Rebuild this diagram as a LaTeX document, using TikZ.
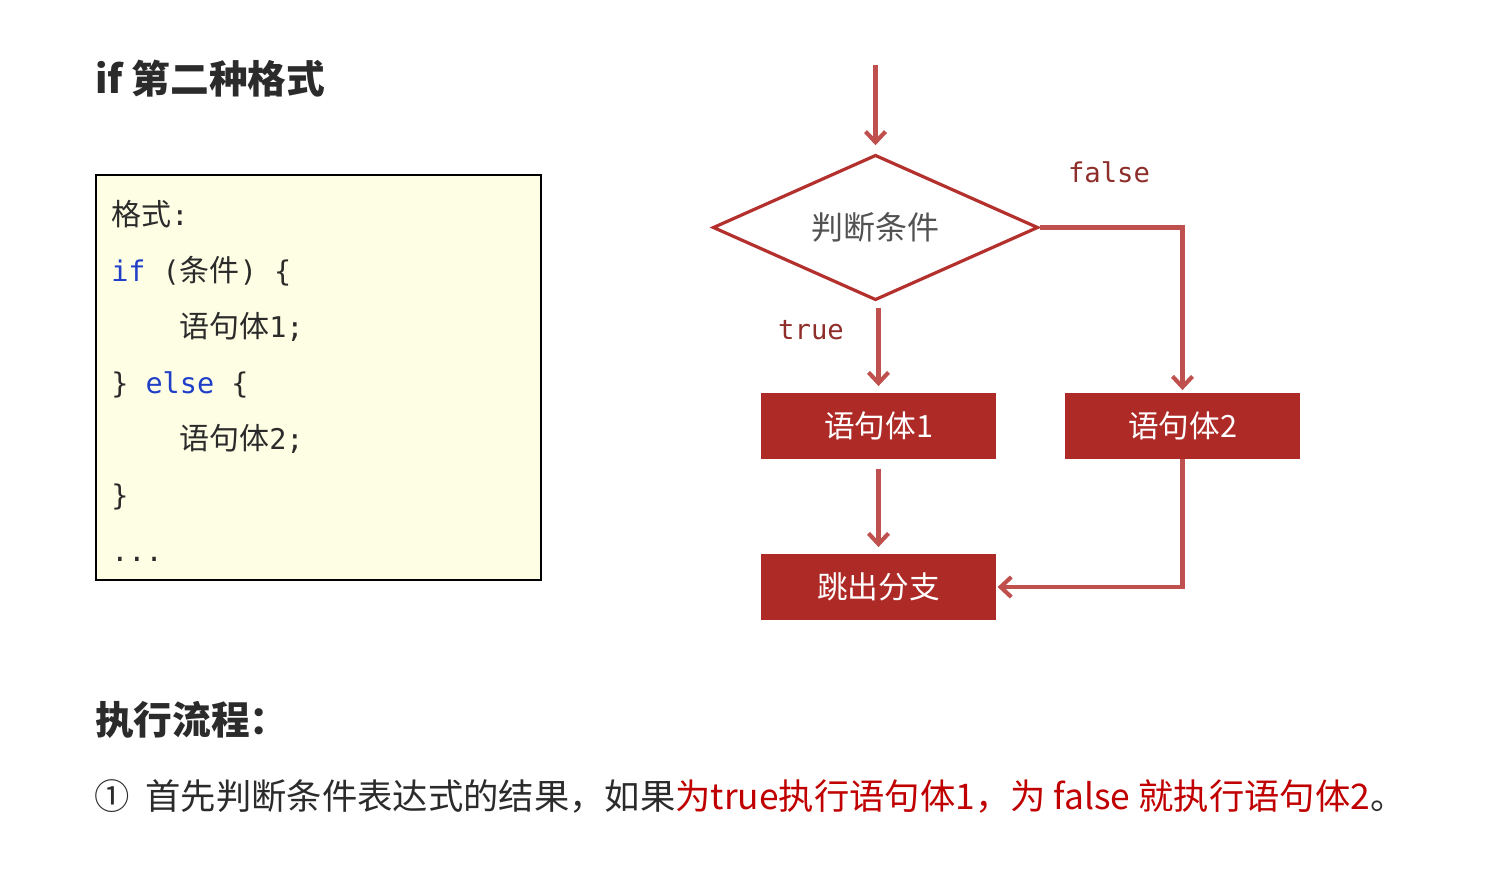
\documentclass[tikz,border=0pt]{standalone}
\usepackage{fontspec}
\usetikzlibrary{shapes.geometric,arrows.meta}
\newfontfamily\cjk{Noto Sans CJK SC}
\setmonofont{DejaVu Sans Mono}[Scale=0.95]
\definecolor{boxred}{HTML}{AE2A27}
\definecolor{dmred}{HTML}{B3302D}
\definecolor{arrred}{HTML}{C0504D}
\definecolor{lblred}{HTML}{8E2E2B}
\definecolor{codebg}{HTML}{FEFEE4}
\definecolor{kwblue}{HTML}{1F3FC8}
\definecolor{txt}{HTML}{2B2B2B}
\definecolor{hired}{HTML}{C00000}
\tikzset{
  codeline/.style={anchor=base west, inner sep=0, text=txt, font=\cjk\fontsize{22.5}{26}\selectfont},
  stepbox/.style={rectangle, fill=boxred, minimum width=176.25pt, minimum height=49.5pt, inner sep=0, text=white, font=\cjk\fontsize{23}{26}\selectfont},
  cond/.style={diamond, aspect=2.2, draw=dmred, line width=2.4pt, minimum width=244pt, minimum height=109pt, inner sep=0, text=black!68, font=\cjk\fontsize{24}{26}\selectfont},
  arr/.style={draw=arrred, line width=3.1pt, -{Straight Barb[length=8pt,width=15pt,line width=3.1pt]}},
  lbl/.style={inner sep=0, text=lblred, font=\ttfamily\fontsize{21.5}{26}\selectfont},
}
\begin{document}
\begin{tikzpicture}[x=0.75pt,y=-0.75pt]
\useasboundingbox (0,0) rectangle (1505,879);
% title
\node[anchor=base west, inner sep=0, text=txt, font=\cjk\bfseries\fontsize{29}{32}\selectfont] (title) at (95,93) {if 第二种格式};
% code box
\node[draw=black, line width=1.5pt, fill=codebg, minimum width=333.75pt, minimum height=303.75pt, inner sep=0, anchor=north west] (codebox) at (95,174) {};
\node[codeline] (c1) at (111,225) {格式\ttfamily:};
\node[codeline] (c2) at (111,281.5) {\ttfamily\textcolor{kwblue}{if} (\cjk 条件\ttfamily) \{};
\node[codeline] (c3) at (179,337.5) {语句体\ttfamily1;};
\node[codeline] (c4) at (111,393.5) {\ttfamily\} \textcolor{kwblue}{else} \{};
\node[codeline] (c5) at (179,449.5) {语句体\ttfamily2;};
\node[codeline] (c6) at (111,505.5) {\ttfamily\}};
\node[codeline] (c7) at (111,561) {\ttfamily...};
% flowchart
\coordinate (start) at (875.5,65);
\node[cond] (d) at (875.5,227.5) {判断条件};
\node[stepbox] (b1) at (878.5,426) {语句体1};
\node[stepbox] (b2) at (1182.5,426) {语句体2};
\node[stepbox] (ex) at (878.5,587) {跳出分支};
\node[lbl] (lf) at (1109,172) {false};
\node[lbl] (lt) at (811,330) {true};
\draw[arr, shorten >=6pt] (start) -- (d.north);
\draw[arr, shorten <=4.5pt, shorten >=5pt] (b1.north |- d.south) -- (b1.north);
\draw[arr, shorten >=2pt] (d.east) -| (b2.north);
\draw[arr, shorten <=7pt, shorten >=5pt] (b1.south) -- (ex.north);
\draw[arr, shorten >=1pt] (b2.south) |- (ex.east);
% bottom text
\node[anchor=base west, inner sep=0, text=txt, font=\cjk\bfseries\fontsize{29}{32}\selectfont] (h2) at (95,734) {执行流程：};
\node[anchor=base west, inner sep=0, text=txt, font=\cjk\fontsize{26.5}{30}\selectfont] (desc) at (94,809) {①\hspace{0.45em}首先判断条件表达式的结果，如果\textcolor{hired}{为true执行语句体1，为 false 就执行语句体2}。};
\end{tikzpicture}
\end{document}
